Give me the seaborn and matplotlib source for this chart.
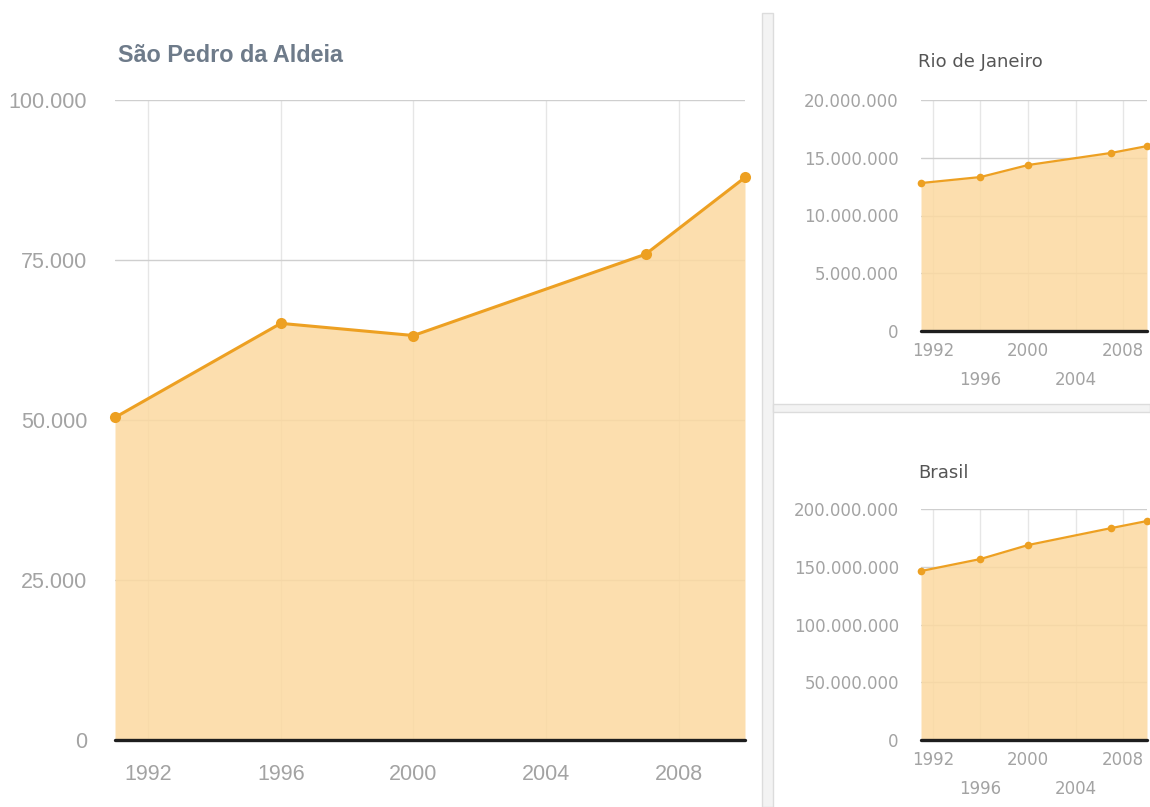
import matplotlib
matplotlib.use("Agg")
import matplotlib.pyplot as plt
import matplotlib.ticker as mticker
from matplotlib.patches import Rectangle
import seaborn as sns
import pandas as pd

# ---- data ----
years = [1991, 1996, 2000, 2007, 2010]
sao_pedro = [50400, 65100, 63200, 75900, 87900]
rio = [12810000, 13330000, 14370000, 15420000, 16010000]
brasil = [146300000, 156700000, 168800000, 183500000, 189600000]

main_title = "São Pedro da Aldeia"
rio_title = "Rio de Janeiro"
brasil_title = "Brasil"

main_yticks = [0, 25000, 50000, 75000, 100000]
rio_yticks = [0, 5000000, 10000000, 15000000, 20000000]
brasil_yticks = [0, 50000000, 100000000, 150000000, 200000000]
xticks_row1 = [1992, 2000, 2008]
xticks_row2 = [1996, 2004]
main_xticks = [1992, 1996, 2000, 2004, 2008]

LINE = "#eda022"
FILL = "#fcd9a0"
TICK = "#a3a3a3"

sns.set_theme(style="white")
plt.rcParams["font.family"] = ["Liberation Sans", "DejaVu Sans"]

W, H = 1150, 807
fig = plt.figure(figsize=(W / 100, H / 100), dpi=100)


def rect(l, t, r, b):
    return [l / W, (H - b) / H, (r - l) / W, (b - t) / H]


fmt = mticker.FuncFormatter(lambda v, p: f"{int(round(v)):,}".replace(",", "."))


def draw(ax, values, yticks, lw, ms):
    df = pd.DataFrame({"year": years, "value": values})
    ax.fill_between(df["year"], 0, df["value"], color=FILL, alpha=0.85, lw=0, zorder=2)
    sns.lineplot(data=df, x="year", y="value", ax=ax, color=LINE, lw=lw,
                 marker="o", markersize=ms, markeredgewidth=0, zorder=4, clip_on=False)
    ax.axhline(0, color="#1e1e1e", lw=2.4, zorder=5, clip_on=False)
    ax.set_xlim(1991, 2010)
    ax.set_ylim(0, yticks[-1])
    ax.set_yticks(yticks)
    ax.yaxis.set_major_formatter(fmt)
    ax.set_xlabel("")
    ax.set_ylabel("")
    for s in ax.spines.values():
        s.set_visible(False)
    ax.grid(axis="y", which="major", color="#cfcfcf", lw=1, zorder=1)
    ax.set_axisbelow(True)


# ---- main chart ----
ax = fig.add_axes(rect(115, 100, 745, 740))
draw(ax, sao_pedro, main_yticks, 2.2, 8)
ax.set_xticks(main_xticks)
ax.grid(axis="x", which="major", color="#e6e6e6", lw=1, zorder=1)
ax.tick_params(axis="both", length=0, colors=TICK, labelsize=15.5)
ax.tick_params(axis="y", pad=20)
ax.tick_params(axis="x", pad=17)
fig.text(118 / W, 1 - 55 / H, main_title, fontsize=16.8, fontweight="bold",
         color="#6e7b8a", ha="left", va="center")

# ---- small charts ----
small = [(rio, rio_yticks, rio_title, 100, 331, 62),
         (brasil, brasil_yticks, brasil_title, 509, 740, 473)]
for vals, yt, title, top, bot, ty in small:
    a = fig.add_axes(rect(921, top, 1147, bot))
    draw(a, vals, yt, 1.6, 5.5)
    a.set_xticks(xticks_row1)
    a.set_xticks(xticks_row2, minor=True)
    a.set_xticklabels([str(v) for v in xticks_row1], family="DejaVu Sans")
    a.set_xticklabels([str(v) for v in xticks_row2], minor=True, family="DejaVu Sans")
    for lab in a.get_yticklabels():
        lab.set_family("DejaVu Sans")
    a.grid(axis="x", which="both", color="#e6e6e6", lw=1, zorder=1)
    a.tick_params(axis="both", which="both", length=0, colors=TICK, labelsize=12)
    a.tick_params(axis="y", pad=16)
    a.tick_params(axis="x", which="major", pad=8)
    a.tick_params(axis="x", which="minor", pad=29)
    fig.text(918 / W, 1 - ty / H, title, fontsize=13, color="#555555",
             family="DejaVu Sans", ha="left", va="center")

# ---- panel separators ----
fig.add_artist(Rectangle((762 / W, 0), 11 / W, (H - 13) / H, transform=fig.transFigure,
                         facecolor="#f3f3f3", edgecolor="#dcdcdc", lw=1))
fig.add_artist(Rectangle((773 / W, (H - 412) / H), (W - 773) / W, 8 / H,
                         transform=fig.transFigure, facecolor="#f3f3f3",
                         edgecolor="#dcdcdc", lw=1))

fig.savefig("out.png", dpi=100)
